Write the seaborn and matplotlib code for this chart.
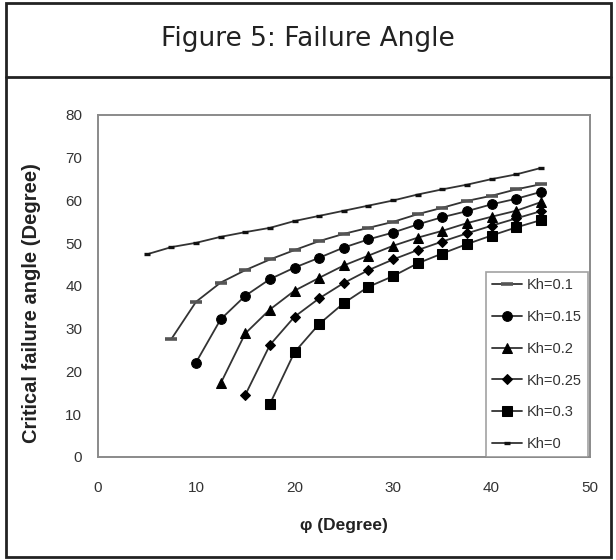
import matplotlib
matplotlib.use("Agg")
import matplotlib.pyplot as plt
import seaborn as sns
import pandas as pd
from matplotlib.patches import Rectangle
from matplotlib.lines import Line2D

# ---- data ----
phi_kh0 = [5, 7.5, 10, 12.5, 15, 17.5, 20, 22.5, 25, 27.5, 30, 32.5, 35, 37.5, 40, 42.5, 45]
kh0 = [47.4, 49.1, 50.1, 51.5, 52.6, 53.6, 55.2, 56.4, 57.6, 58.8, 60.0, 61.4, 62.6, 63.7, 65.0, 66.1, 67.6]

phi_kh01 = [7.5, 10, 12.5, 15, 17.5, 20, 22.5, 25, 27.5, 30, 32.5, 35, 37.5, 40, 42.5, 45]
kh01 = [27.6, 36.3, 40.8, 43.7, 46.2, 48.4, 50.5, 52.2, 53.6, 55.0, 56.8, 58.3, 59.9, 61.1, 62.6, 63.8]

phi_kh015 = [10, 12.5, 15, 17.5, 20, 22.5, 25, 27.5, 30, 32.5, 35, 37.5, 40, 42.5, 45]
kh015 = [22.1, 32.2, 37.7, 41.6, 44.3, 46.6, 49.0, 50.9, 52.5, 54.4, 56.1, 57.5, 59.1, 60.4, 62.0]

phi_kh02 = [12.5, 15, 17.5, 20, 22.5, 25, 27.5, 30, 32.5, 35, 37.5, 40, 42.5, 45]
kh02 = [17.2, 28.9, 34.5, 38.9, 41.9, 44.8, 47.1, 49.4, 51.3, 52.9, 54.7, 56.2, 57.6, 59.6]

phi_kh025 = [15, 17.5, 20, 22.5, 25, 27.5, 30, 32.5, 35, 37.5, 40, 42.5, 45]
kh025 = [14.5, 26.2, 32.8, 37.1, 40.7, 43.7, 46.2, 48.4, 50.4, 52.3, 54.1, 55.8, 57.5]

phi_kh03 = [17.5, 20, 22.5, 25, 27.5, 30, 32.5, 35, 37.5, 40, 42.5, 45]
kh03 = [12.4, 24.5, 31.1, 36.0, 39.8, 42.3, 45.3, 47.6, 49.8, 51.8, 53.7, 55.4]

labels = ["Kh=0.1", "Kh=0.15", "Kh=0.2", "Kh=0.25", "Kh=0.3", "Kh=0"]
x_ticks = [0, 10, 20, 30, 40, 50]
y_ticks = [0, 10, 20, 30, 40, 50, 60, 70, 80]

series = [
    (phi_kh01, kh01, labels[0], dict(marker="_", markersize=9, markeredgewidth=2.6, markeredgecolor="#555555")),
    (phi_kh015, kh015, labels[1], dict(marker="o", markersize=7)),
    (phi_kh02, kh02, labels[2], dict(marker="^", markersize=7.5)),
    (phi_kh025, kh025, labels[3], dict(marker="D", markersize=5.5)),
    (phi_kh03, kh03, labels[4], dict(marker="s", markersize=6.5)),
    (phi_kh0, kh0, labels[5], dict(marker="_", markersize=5, markeredgewidth=2.4, markeredgecolor="#111111")),
]

sns.set_style("white")
plt.rcParams["font.family"] = ["Liberation Sans", "DejaVu Sans"]

fig = plt.figure(figsize=(6.16, 5.6), dpi=100)
ax = fig.add_axes([97.5 / 616, 1 - 457 / 560, (590 - 97.5) / 616, (457 - 115) / 560])

for xs, ys, lab, kw in series:
    df = pd.DataFrame({"phi": xs, "angle": ys})
    sns.lineplot(data=df, x="phi", y="angle", ax=ax, color="#333333", linewidth=1.3,
                 markerfacecolor="black", markeredgecolor=kw.pop("markeredgecolor", "black"),
                 label=lab, **kw)

ax.set_xlim(0, 50)
ax.set_ylim(0, 80)
ax.set_xticks(x_ticks)
ax.set_yticks(y_ticks)
ax.tick_params(axis="both", direction="out", length=4, width=1, color="#777777",
               labelsize=11, labelcolor="#333333")
ax.tick_params(axis="x", pad=13)
ax.tick_params(axis="y", pad=7)
for s in ax.spines.values():
    s.set_color("#8a8a8a")
    s.set_linewidth(1.4)

ax.set_xlabel("\u03c6 (Degree)", fontsize=12.5, fontweight="bold", color="#222222", labelpad=17)
ax.set_ylabel("Critical failure angle (Degree)", fontsize=14.5, fontweight="bold",
              color="#222222", labelpad=6)
ax.yaxis.set_label_coords(-0.115, 0.45)

leg = ax.legend(loc="lower right", bbox_to_anchor=(0.995, 0.0), frameon=True, fancybox=False,
                fontsize=10.5, borderaxespad=0, labelspacing=1.22, handlelength=2.1,
                handletextpad=0.3, borderpad=0.4)
leg.get_frame().set_edgecolor("#8a8a8a")
leg.get_frame().set_linewidth(1.2)
for t in leg.get_texts():
    t.set_color("#333333")

# outer frame and title box
fig.patches.append(Rectangle((6 / 616, 1 - 557 / 560), (611 - 6) / 616, (557 - 3) / 560,
                             transform=fig.transFigure, fill=False, edgecolor="#222222",
                             linewidth=2))
fig.lines.append(Line2D([6 / 616, 611 / 616], [1 - 77 / 560, 1 - 77 / 560],
                        transform=fig.transFigure, color="#222222", linewidth=2))
fig.text(0.5, 1 - 39 / 560, "Figure 5: Failure Angle", ha="center", va="center",
         fontsize=19, color="#222222", family=["DejaVu Sans"])

fig.savefig("out.png", dpi=100)
